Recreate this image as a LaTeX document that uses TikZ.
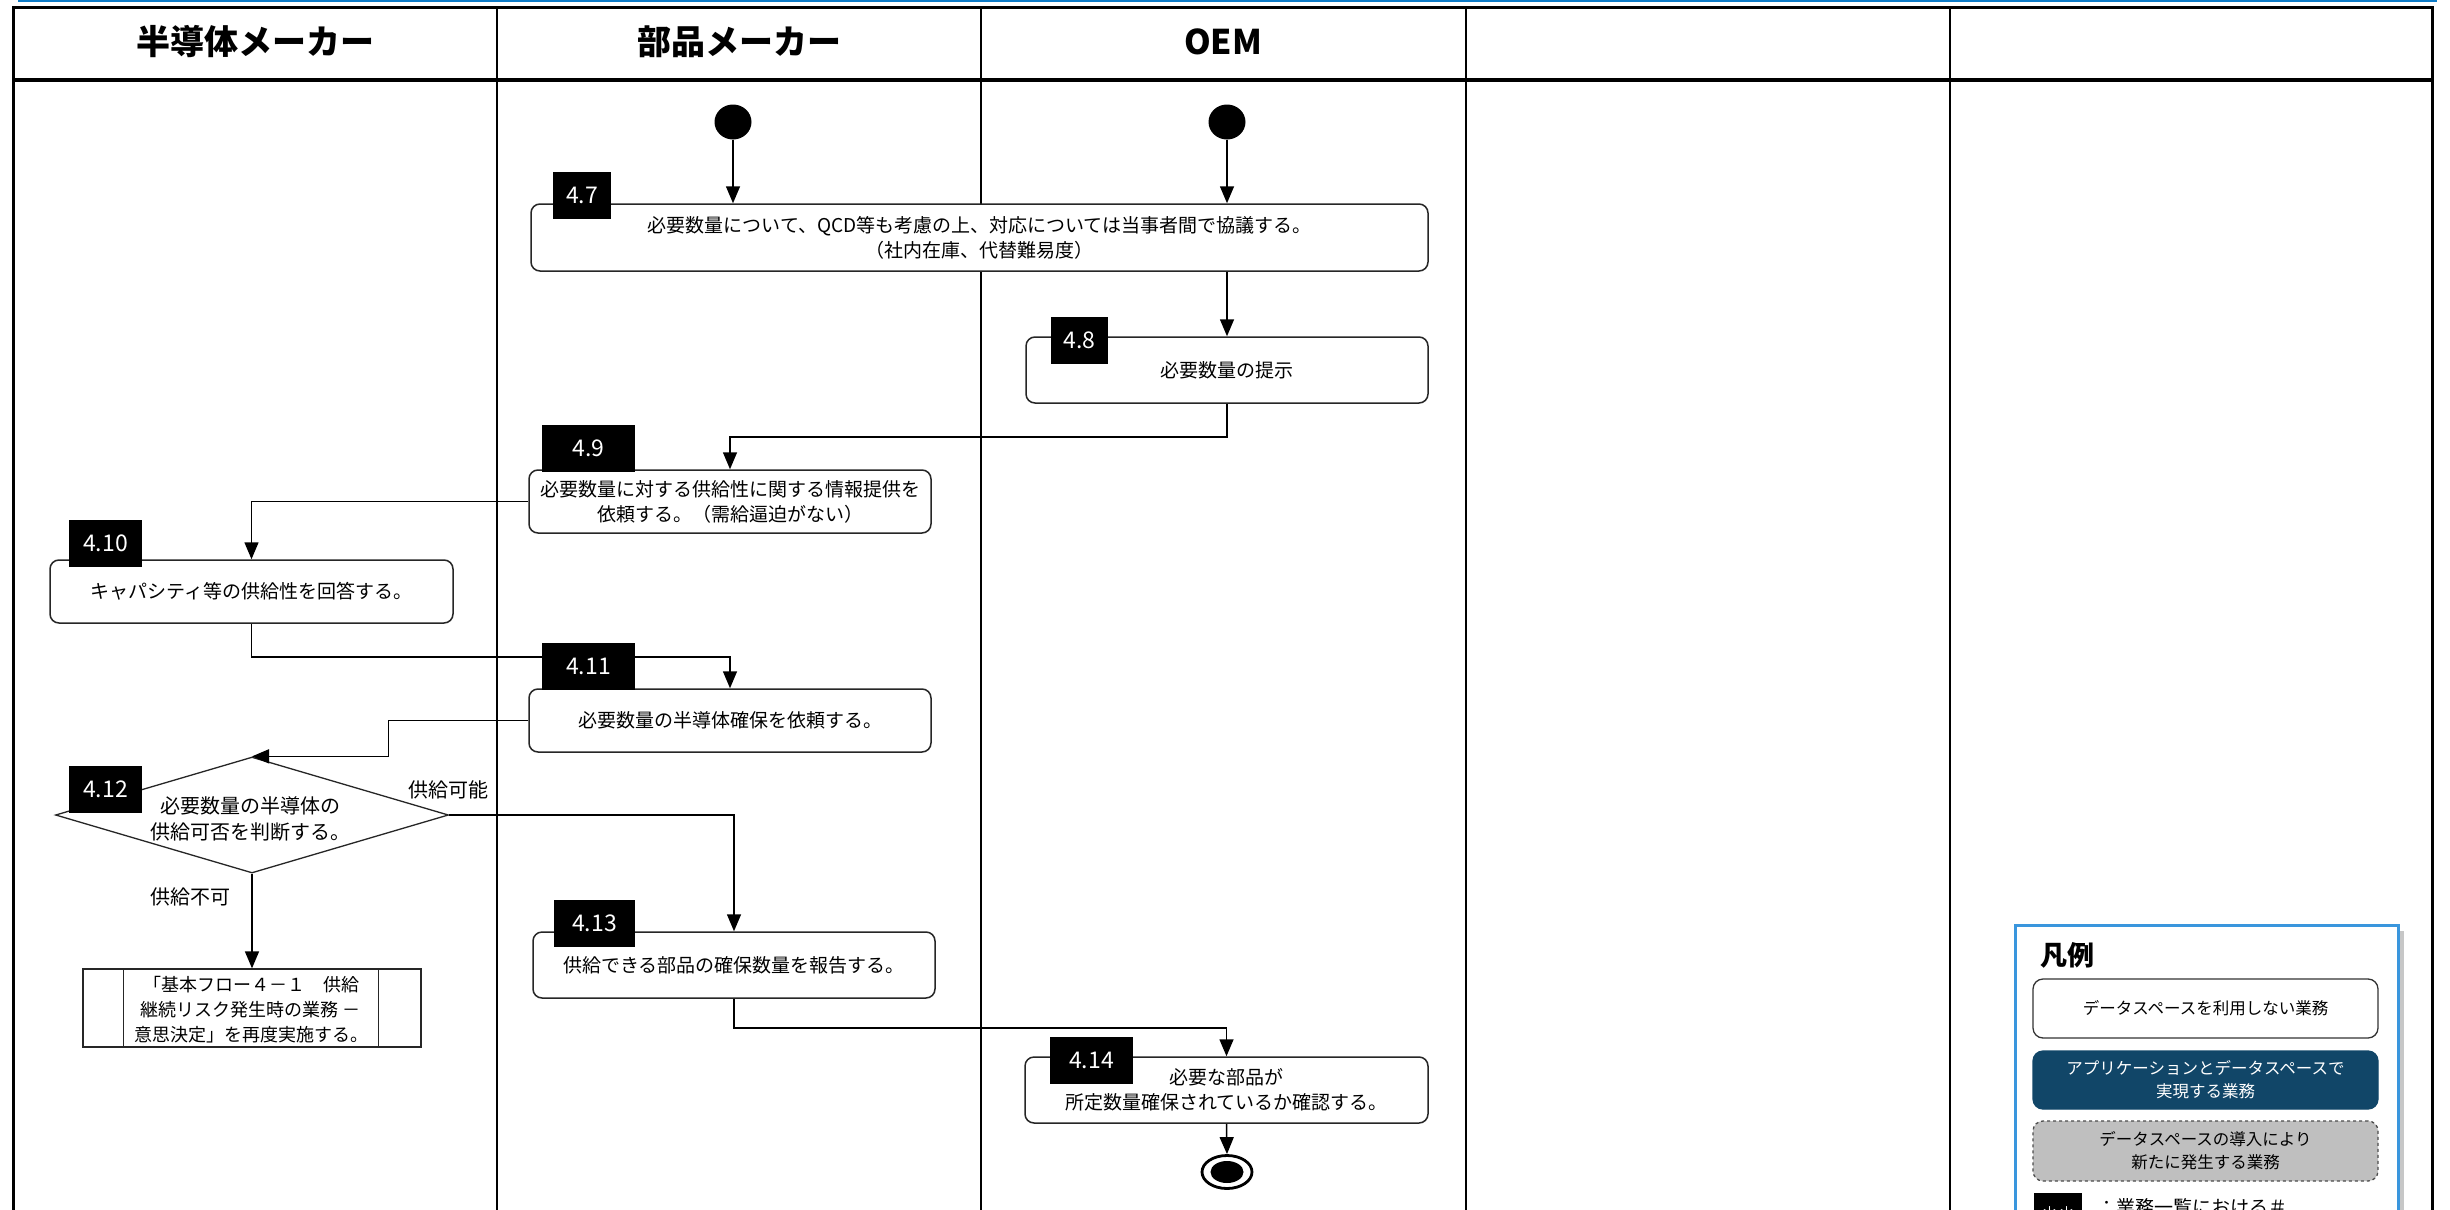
\documentclass[tikz,border=0pt]{standalone}
\usepackage{fontspec}
\setmainfont{Noto Sans CJK JP}
\usetikzlibrary{arrows.meta,shapes.geometric,calc}
\definecolor{topblue}{HTML}{0E7CC8}
\definecolor{legblue}{HTML}{3A96DD}
\definecolor{navy}{HTML}{114668}
\definecolor{lgray}{HTML}{BFBFBF}
\tikzset{
  lane/.style={line width=3pt, black},
  proc/.style={draw=black!85, line width=1.5pt, rounded corners=9pt, fill=white, inner sep=0pt, align=center, font=\fontsize{19}{25}\selectfont},
  tag/.style={fill=black, text=white, inner sep=0pt, minimum height=47pt, font=\fontsize{23}{23}\selectfont},
  flow/.style={line width=1.5pt, black, -{Triangle[length=17pt,width=14pt]}},
  plain/.style={line width=1.5pt, black},
  hdr/.style={font=\bfseries\fontsize{34}{40}\selectfont},
  txt/.style={inner sep=0pt, align=center, font=\fontsize{19}{25}\selectfont},
  dlabel/.style={inner sep=0pt, font=\fontsize{20}{24}\selectfont},
  legbox/.style={rounded corners=10pt, minimum width=345pt, inner sep=0pt, align=center, line width=1.3pt, font=\fontsize{16.5}{23}\selectfont},
}
\begin{document}
\begin{tikzpicture}[x=1pt,y=-1pt]
\useasboundingbox (0,0) rectangle (2450,1210);
\clip (0,0) rectangle (2450,1210);
\fill[white] (0,0) rectangle (2450,1210);
% top blue rule
\draw[topblue, line width=2pt] (18,1) -- (2437,1);
% swimlanes
\draw[lane] (13,7) rectangle (2432,1230);
\draw[lane, line width=3.5pt] (13,80) -- (2432,80);
\foreach \xx in {497,981,1466,1950} \draw[lane, line width=2.5pt] (\xx,7) -- (\xx,1230);
\node[hdr] (h1) at (255,42) {半導体メーカー};
\node[hdr] (h2) at (739,42) {部品メーカー};
\node[hdr] (h3) at (1223,42) {OEM};

% start / end
\node[ellipse, fill=black, minimum width=37pt, minimum height=35pt, inner sep=0pt] (s1) at (733,122) {};
\node[ellipse, fill=black, minimum width=37pt, minimum height=35pt, inner sep=0pt] (s2) at (1227,122) {};

% process boxes
\node[proc, minimum width=897pt, minimum height=67pt] (b47) at (979.5,237.5) {必要数量について、QCD等も考慮の上、対応については当事者間で協議する。\\（社内在庫、代替難易度）};
\node[proc, minimum width=402pt, minimum height=66pt] (b48) at (1227,370) {必要数量の提示};
\node[proc, minimum width=402pt, minimum height=63pt] (b49) at (730,501.5) {必要数量に対する供給性に関する情報提供を\\依頼する。（需給逼迫がない）};
\node[proc, minimum width=403pt, minimum height=63pt] (b410) at (251.5,591.5) {キャパシティ等の供給性を回答する。};
\node[proc, minimum width=402pt, minimum height=63pt] (b411) at (730,720.5) {必要数量の半導体確保を依頼する。};
\node[diamond, draw=black!85, line width=1.3pt, fill=white, minimum width=393pt, minimum height=116pt, inner sep=0pt] (d412) at (252,815) {};
\node[txt, font=\fontsize{20}{26}\selectfont] (d412t) at (250,819) {必要数量の半導体の\\供給可否を判断する。};
\node[draw=black!85, line width=1.3pt, fill=white, minimum width=338pt, minimum height=78pt, inner sep=0pt] (pre) at (252,1008) {};
\draw[black!85, line width=1.3pt] ($(pre.north west)+(41,0)$) -- ($(pre.south west)+(41,0)$);
\draw[black!85, line width=1.3pt] ($(pre.north east)+(-43,0)$) -- ($(pre.south east)+(-43,0)$);
\node[txt, font=\fontsize{18}{25}\selectfont] (pret) at (251,1010) {「基本フロー４－１　供給\\継続リスク発生時の業務 －\\意思決定」を再度実施する。};
\node[proc, minimum width=402pt, minimum height=66pt] (b413) at (734,965) {供給できる部品の確保数量を報告する。};
\node[proc, minimum width=403pt, minimum height=66pt] (b414) at (1226.5,1090) {必要な部品が\\所定数量確保されているか確認する。};
\node[ellipse, draw=black, line width=2.8pt, fill=white, minimum width=50pt, minimum height=33pt, inner sep=0pt] (e) at (1227,1172) {};
\node[ellipse, fill=black, minimum width=33pt, minimum height=22pt, inner sep=0pt] (ei) at (e.center) {};

% connectors
\draw[flow] (s1) -- (s1 |- b47.north);
\draw[flow] (s2) -- (s2 |- b47.north);
\draw[flow] (b48.north |- b47.south) -- (b48.north);
\draw[flow] (b48.south) -- ++(0,33) -| (b49.north);
\draw[flow] (b49.west) -| (b410.north);
\draw[flow] (b410.south) -- ++(0,33) -| (b411.north);
\draw[flow] (b411.west) -- ++(-140,0) |- (d412.north);
\draw[flow] (d412.east) -| (b413.north);
\draw[flow] (d412.south) -- (pre.north);
\draw[flow] (b413.south) -- ++(0,29) -| (b414.north);
\draw[flow] (b414.south) -- (e.north);
\node[dlabel] (lyes) at (448,790) {供給可能};
\node[dlabel] (lno) at (190,897) {供給不可};

% step tags
\node[tag, minimum width=58pt] (t47) at (582,195.5) {4.7};
\node[tag, minimum width=57pt] (t48) at (1079.5,340.5) {4.8};
\node[tag, minimum width=93pt] (t49) at (588.5,448) {4.9};
\node[tag, minimum width=73pt] (t410) at (105.5,543) {4.10};
\node[tag, minimum width=93pt] (t411) at (588.5,666.5) {4.11};
\node[tag, minimum width=73pt] (t412) at (105.5,789.5) {4.12};
\node[tag, minimum width=81pt] (t413) at (594.5,923.5) {4.13};
\node[tag, minimum width=83pt] (t414) at (1091.5,1060.5) {4.14};

% legend
\fill[black!22] (2021,931) rectangle (2404,1230);
\node[draw=legblue, line width=2.5pt, fill=white, minimum width=383pt, minimum height=320pt, anchor=north west, inner sep=0pt] (leg) at (2014,924) {};
\node[anchor=west, inner sep=0pt, font=\bfseries\fontsize{27}{30}\selectfont] (legt) at (2040,955) {凡例};
\node[legbox, draw=black!80, fill=white, minimum height=59pt] (l1) at (2205.5,1008.5) {データスペースを利用しない業務};
\node[legbox, draw=navy, fill=navy, text=white, minimum height=58pt] (l2) at (2205.5,1080) {アプリケーションとデータスペースで\\実現する業務};
\node[legbox, draw=black!70, dashed, fill=lgray, minimum height=60pt] (l3) at (2205.5,1151) {データスペースの導入により\\新たに発生する業務};
\node[fill=black, text=white, minimum width=48pt, minimum height=40pt, anchor=north west, inner sep=0pt, font=\fontsize{17}{20}\selectfont] (l4) at (2034,1193) {＊＊};
\node[anchor=west, inner sep=0pt, font=\fontsize{19}{22}\selectfont] (l4t) at (2097,1207) {：業務一覧における＃};
\end{tikzpicture}
\end{document}
